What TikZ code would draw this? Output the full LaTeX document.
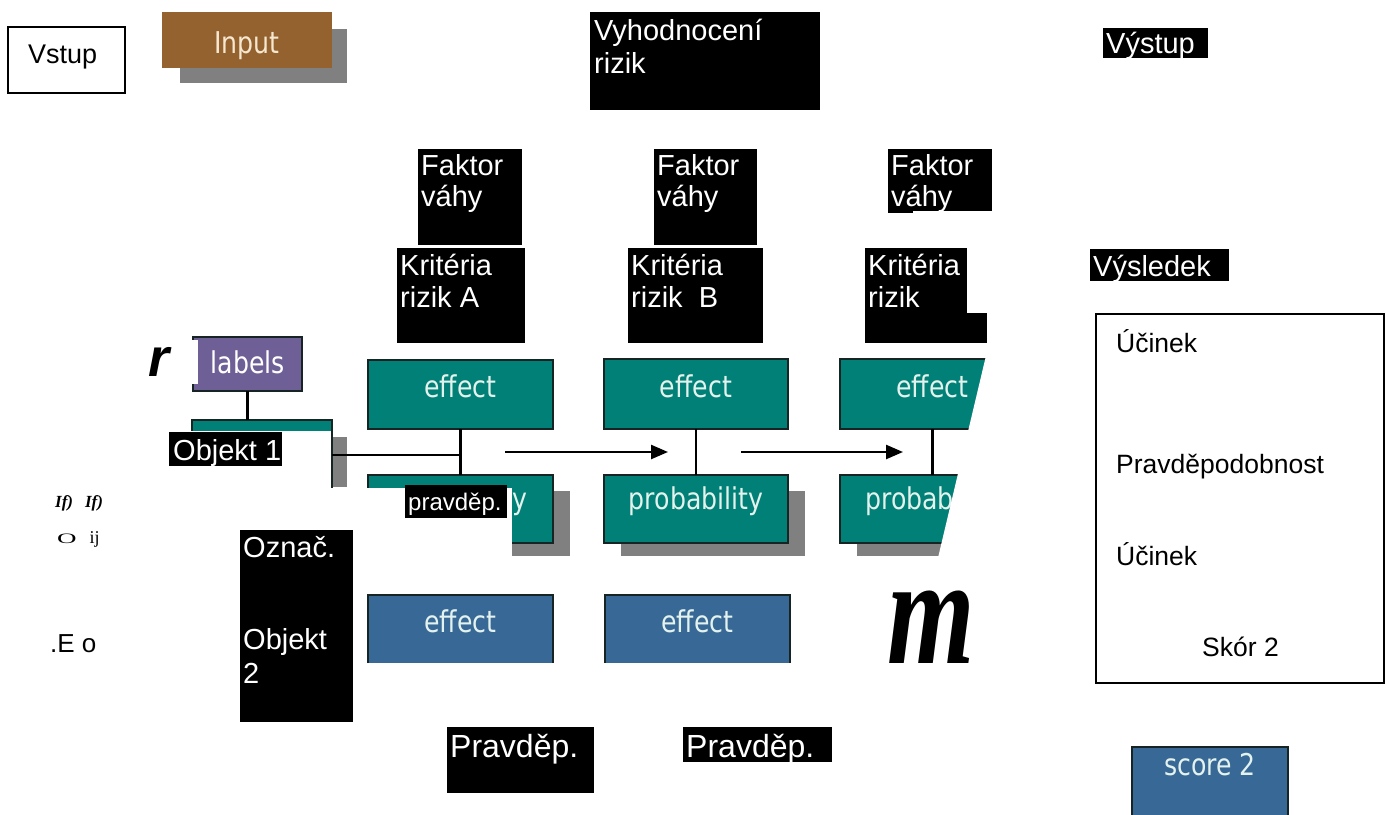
\documentclass[tikz,border=0pt]{standalone}
\usepackage{fontspec}
\setmainfont{Liberation Sans}
\newfontfamily\narrowboxfont[FakeStretch=0.84]{DejaVu Sans}
\newfontfamily\bigseriffont{Liberation Serif}
\usetikzlibrary{arrows.meta}

\definecolor{tealfill}{RGB}{0,128,118}
\definecolor{bluefill}{RGB}{55,104,150}
\definecolor{purplefill}{RGB}{110,96,150}
\definecolor{brownfill}{RGB}{148,98,46}
\definecolor{shadowgray}{RGB}{128,128,128}
\definecolor{borderdark}{RGB}{22,36,36}
\definecolor{lighttxt}{RGB}{228,242,238}
\definecolor{creamtxt}{RGB}{246,232,208}

\begin{document}
\begin{tikzpicture}[x=1pt,y=-1pt,
  bx/.style={anchor=north west, inner sep=0, outer sep=0},
  sz/.style 2 args={minimum width=#1, minimum height=#2},
  blk/.style={bx, fill=black},
  shadowbox/.style={bx, fill=shadowgray},
  tealbox/.style={bx, fill=tealfill, draw=borderdark, line width=2.2pt},
  bluebox/.style={bx, fill=bluefill},
  wt/.style={anchor=base west, inner sep=0, text=white, font=\fontsize{29}{33}\selectfont},
  txt/.style={anchor=base west, inner sep=0, text=black, font=\fontsize{26.5}{30}\selectfont},
  boxtxt/.style={anchor=base, inner sep=0, text=lighttxt, font=\narrowboxfont\fontsize{30}{34}\selectfont},
  conn/.style={draw=black, line width=2.5pt},
  arr/.style={conn, -{Triangle[length=17pt,width=14pt]}}
]
\useasboundingbox (0,0) rectangle (1389,814);
\fill[white] (0,0) rectangle (1389,814);

% ---------- input column ----------
\node[bx, draw=black, line width=1.5pt, sz={117}{66}] (vstupbox) at (8,27) {};
\node[txt, font=\fontsize{27}{30}\selectfont] (vstup) at (28,63) {Vstup};

\node[shadowbox, sz={167}{54}] (inshadow) at (180,29) {};
\node[bx, fill=brownfill, sz={170}{56}] (inbox) at (162,12) {};
\node[boxtxt, text=creamtxt] (intxt) at (247,53) {Input};

% ---------- labels and object 1 ----------
\node[bx, fill=purplefill, draw=borderdark, line width=2.2pt, sz={109}{54}] (labbox) at (193,337) {};
\fill[white] (191.5,339.5) rectangle (197.5,384);
\node[boxtxt, text=white] (labtxt) at (248,373) {labels};
\node[anchor=base west, inner sep=0, font=\fontsize{54}{54}\selectfont\bfseries\itshape] (rglyph) at (148,376) {r};

\node[shadowbox, sz={14}{50}] (ob1shadow) at (333,437) {};
\node[tealbox, sz={140}{67}] (ob1bar) at (192,420) {};
\fill[white] (189,431) rectangle (330.8,491);

% ---------- criterion columns: effect / probability ----------
\node[shadowbox, sz={185}{65}] (probAsh) at (385,491) {};
\node[shadowbox, sz={184}{65}] (probBsh) at (621,491) {};
\node[shadowbox, sz={185}{65}] (probCsh) at (857,491) {};

\node[tealbox, sz={185}{69}] (effA) at (368,360) {};
\node[tealbox, sz={184}{70}] (effB) at (604,359) {};
\node[tealbox, sz={185}{70}] (effC) at (840,359) {};
\node[tealbox, sz={185}{68}] (probA) at (368,475) {};
\node[tealbox, sz={184}{68}] (probB) at (604,475) {};
\node[tealbox, sz={185}{68}] (probC) at (840,475) {};

\node[boxtxt] (effAtxt) at (460.5,397) {effect};
\node[boxtxt] (effBtxt) at (696,397) {effect};
\node[boxtxt] (effCtxt) at (932.5,397) {effect};
\node[boxtxt] (probBtxt) at (696,509) {probability};
% only the last letter of the first probability caption is left
\node[boxtxt, anchor=base east] (probAtxt) at (528,509) {y};
% the third column is cut off by a slanted edge
\begin{scope}
  \clip (830,470) -- (958,470) -- (940,550) -- (830,550) -- cycle;
  \node[boxtxt] (probCtxt) at (932.5,509) {probability};
\end{scope}

% cut-off right edge of the third column and the blanked part of the first box
\fill[white] (989,343) -- (1050,343) -- (1050,562) -- (937,562) -- cycle;
\fill[white] (366,487.5) rectangle (512,558);

% connectors
\coordinate (labjoin) at (247.5,420);
\draw[conn] (labbox.south) -- (labjoin);
\coordinate (ob1out) at (332,455);
\coordinate (joinA) at (460.5,455);
\draw[conn] (ob1out) -- (joinA);
\draw[conn] (effA.south) -- (probA.north);
\draw[conn] (effB.south) -- (probB.north);
\draw[conn] (effC.south) -- (probC.north);
\coordinate (arr1s) at (505,452);
\coordinate (arr1e) at (668,452);
\coordinate (arr2s) at (741,452);
\coordinate (arr2e) at (903,452);
\draw[arr] (arr1s) -- (arr1e);
\draw[arr] (arr2s) -- (arr2e);

% ---------- second object row ----------
\node[bluebox, sz={185}{68}] (effA2) at (368,595) {};
\node[bluebox, sz={185}{68}] (effB2) at (605,595) {};
\draw[borderdark, line width=2.2pt] (effA2.south west) |- (effA2.north east) -- (effA2.south east);
\draw[borderdark, line width=2.2pt] (effB2.south west) |- (effB2.north east) -- (effB2.south east);
\node[boxtxt] (effA2txt) at (460.5,632) {effect};
\node[boxtxt] (effB2txt) at (697.5,632) {effect};

\node[anchor=base west, inner sep=0] (mglyph) at (887,663)
  {\scalebox{0.73}[1]{\bigseriffont\fontsize{154}{154}\selectfont\bfseries\itshape m}};

% ---------- output column ----------
\node[bx, draw=black, line width=1.5pt, sz={288}{369}] (resbox) at (1096,314) {};
\node[txt] (res1) at (1116,352) {Účinek};
\node[txt] (res2) at (1116,473) {Pravděpodobnost};
\node[txt] (res3) at (1116,565) {Účinek};
\node[txt] (res4) at (1202,656) {Skór 2};

\node[bluebox, sz={156}{70}] (scorebox) at (1132,747) {};
\draw[borderdark, line width=2.2pt] (scorebox.south west) |- (scorebox.north east) -- (scorebox.south east);
\node[boxtxt] (scoretxt) at (1210,775) {score 2};

% ---------- black caption labels ----------
\node[blk, sz={230}{98}] (vyhbox) at (590,12) {};
\node[wt] (vyh1) at (594,40) {Vyhodnocení};
\node[wt] (vyh2) at (594,73) {rizik};

\node[blk, sz={105}{30}] (vystbox) at (1103,28) {};
\node[wt] (vyst) at (1106,53) {Výstup};

\node[blk, sz={104}{96}] (fAbox) at (418,149) {};
\node[wt] (fA1) at (421,175) {Faktor};
\node[wt] (fA2) at (421,206) {váhy};
\node[blk, sz={103}{96}] (fBbox) at (654,149) {};
\node[wt] (fB1) at (657,175) {Faktor};
\node[wt] (fB2) at (657,206) {váhy};
\node[blk, sz={104}{62}] (fCbox) at (888,149) {};
\node[blk, sz={25}{64}] (fCnotch) at (888,149) {};
\node[wt] (fC1) at (891,175) {Faktor};
\node[wt] (fC2) at (891,206) {váhy};

\node[blk, sz={128}{95}] (kAbox) at (397,248) {};
\node[wt] (kA1) at (400,275) {Kritéria};
\node[wt] (kA2) at (400,307) {rizik A};
\node[blk, sz={135}{95}] (kBbox) at (628,248) {};
\node[wt] (kB1) at (631,275) {Kritéria};
\node[wt] (kB2) at (631,307) {rizik\ \ B};
\node[blk, sz={102}{95}] (kCbox) at (865,248) {};
\node[blk, sz={122}{30}] (kCfoot) at (865,313) {};
\node[wt] (kC1) at (868,275) {Kritéria};
\node[wt] (kC2) at (868,307) {rizik};

\node[blk, sz={139}{32}] (vysl) at (1090,249) {};
\node[wt] (vysltxt) at (1093,276) {Výsledek};

\node[blk, sz={113}{34}] (ob1lab) at (169,432) {};
\node[wt] (ob1txt) at (173,460) {Objekt 1};

\node[blk, sz={102}{33}] (pravA) at (405,485) {};
\node[wt, font=\fontsize{24}{28}\selectfont] (pravAtxt) at (408,510) {pravděp.};

\node[blk, sz={113}{192}] (ob2lab) at (240,530) {};
\node[wt] (ob2a) at (243,557) {Označ.};
\node[wt] (ob2b) at (243,649) {Objekt};
\node[wt] (ob2c) at (243,683) {2};

\node[blk, sz={147}{66}] (pravB) at (447,727) {};
\node[wt, font=\fontsize{32}{36}\selectfont] (pravBtxt) at (450,757) {Pravděp.};
\node[blk, sz={149}{35}] (pravC) at (683,727) {};
\node[wt, font=\fontsize{32}{36}\selectfont] (pravCtxt) at (686,757) {Pravděp.};

% ---------- stray glyphs on the left margin ----------
\node[anchor=base west, inner sep=0, font=\bigseriffont\fontsize{17}{19}\selectfont\bfseries\itshape] (lg1) at (55,507) {If)\hspace{12pt}If)};
\node[anchor=base west, inner sep=0, font=\bigseriffont\fontsize{18}{20}\selectfont] (lg2) at (57,543) {\scalebox{1.5}[0.8]{O}\hspace{13pt}ij};
\node[txt, font=\fontsize{26}{30}\selectfont] (lg3) at (50,652) {.E o};
\end{tikzpicture}
\end{document}
